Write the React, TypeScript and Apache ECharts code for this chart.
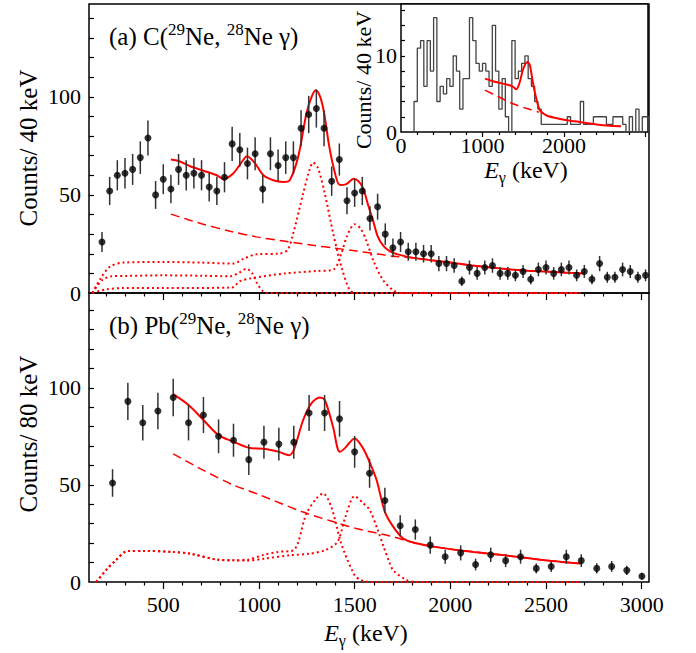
import React, { useEffect, useRef } from "react";
import * as echarts from "echarts";

const FONT = '"Liberation Serif", "DejaVu Serif", serif';
const RED = "#ff0000";

// ---------- Panel (a): C target, 40 keV bins ----------
const aEnergy = [180,220,260,300,340,380,420,460,500,540,580,620,660,700,740,780,820,860,900,940,980,1020,1060,1100,1140,1180,1220,1260,1300,1340,1380,1420,1460,1500,1540,1580,1620,1660,1700,1740,1780,1820,1860,1900,1940,1980,2020,2060,2100,2140,2180,2220,2260,2300,2340,2380,2420,2460,2500,2540,2580,2620,2660,2700,2740,2780,2820,2860,2900,2940,2980,3020];
const aCounts = [26,52,60,61,63,69,79,50,58,53,63,60,61,60,54,52,59,76,73,66,71,53,71,65,69,69,84,91,94,84,57,68,47,51,52,38,44,30,23,26,21,21,20,20,15,15,14,6,13,10,13,14,10,10,9,11,7,12,13,10,12,13,9,11,7,15,8,8,12,11,8,9];
const aErrors = [5.1,7.2,7.7,7.8,7.9,8.3,8.9,7.1,7.6,7.3,7.9,7.7,7.8,7.7,7.3,7.2,7.7,8.7,8.5,8.1,8.4,7.3,8.4,8.1,8.3,8.3,9.2,9.5,9.7,9.2,7.5,8.2,6.9,7.1,7.2,6.2,6.6,5.5,4.8,5.1,4.6,4.6,4.5,4.5,3.9,3.9,3.7,2.4,3.6,3.2,3.6,3.7,3.2,3.2,3.0,3.3,2.6,3.5,3.6,3.2,3.5,3.6,3.0,3.3,2.6,3.9,2.8,2.8,3.5,3.3,2.8,3.0];

const aFit: [number, number][] = [[540,68.1],[580,67.3],[640,64.6],[730,61.7],[780,60],[815,58],[865,60.9],[905,66],[938,69.7],[978,66.3],[1022,60.1],[1074,57.5],[1126,56.6],[1161,57.5],[1205,69.4],[1248,91.5],[1275,100],[1297,103.4],[1320,100],[1340,92],[1365,76],[1390,64],[1423,55],[1457,55.5],[1495,58.2],[1520,57],[1544,53.5],[1570,45],[1596,37],[1620,29],[1650,24],[1683,21.3],[1720,19.8],[1806,17.9],[1981,15.8],[2155,13.6],[2329,11.9],[2500,10.9],[2700,9.9]];
const aBackground: [number, number][] = [[540,40.2],[700,35.3],[850,31.5],[986,28.6],[1109,26.8],[1283,24.3],[1400,22.8],[1500,21.5],[1632,19.7],[1702,18.7],[1806,17.9],[1981,15.8],[2155,13.6],[2329,11.9],[2500,10.9],[2700,9.9]];
const aComp1300: [number, number][] = [[130,0],[170,7],[220,13.3],[290,15.5],[500,15.8],[700,15.5],[865,15],[921,17.5],[986,19.7],[1109,20.1],[1150,22],[1179,30.3],[1231,50.7],[1262,62],[1283,66.5],[1309,63.5],[1344,50.7],[1388,30.3],[1431,13.3],[1475,1.4],[1510,0],[2680,0]];
const aComp900: [number, number][] = [[130,0],[180,6.5],[230,8.5],[308,8.7],[500,9],[700,8.8],[850,8.5],[900,10.5],[935,12.4],[965,10],[990,5],[1020,1],[1050,0],[2680,0]];
const aComp1500: [number, number][] = [[130,0],[200,1.8],[290,2.5],[500,2.5],[860,2.8],[900,6],[960,7.5],[1140,10],[1300,11.2],[1390,12],[1430,20],[1460,29],[1500,35],[1530,33],[1560,27],[1597,16.7],[1649,6.5],[1702,1.4],[1740,0],[2680,0]];

// ---------- Panel (b): Pb target, 80 keV bins ----------
const bEnergy = [235,315,393,472,552,632,710,789,867,947,1026,1104,1182,1262,1343,1421,1500,1578,1658,1738,1817,1895,1973,2054,2132,2211,2289,2367,2449,2527,2606,2684,2765,2843,2922,3001];
const bCounts = [51,93,82,88,95,82,86,75,73,63,72,71,72,87,87,84,67,56,42,29,27,19,13,15,9,14,11,13,7,8,13,11,7,8,6,3];
const bErrors = [7.1,9.6,9.1,9.4,9.7,9.1,9.3,8.7,8.5,7.9,8.5,8.4,8.5,9.3,9.3,9.2,8.2,7.5,6.5,5.4,5.2,4.4,3.6,3.9,3.0,3.7,3.3,3.6,2.6,2.8,3.6,3.3,2.6,2.8,2.4,1.7];

const bFit: [number, number][] = [[552,96.7],[632,91.1],[710,83.4],[789,75.6],[867,72.2],[947,69.1],[1026,68.6],[1104,67],[1157,65.3],[1182,67.9],[1231,83.4],[1274,92],[1318,95],[1344,93.7],[1387,79.9],[1422,67],[1448,68.8],[1500,73.9],[1544,68.8],[1579,61.5],[1615,52.4],[1658,36.1],[1702,28.4],[1754,22.4],[1815,20.1],[1946,17.7],[2121,15.5],[2295,13.6],[2469,11.5],[2679,9.5]];
const bBackground: [number, number][] = [[552,66],[700,58],[865,50],[1000,45],[1231,36],[1423,30],[1509,27.5],[1684,23.7],[1754,21.8],[1815,20.1],[1946,17.7],[2121,15.5],[2295,13.6],[2469,11.5],[2679,9.5]];
const bComp1300: [number, number][] = [[150,0],[200,6],[250,11],[315,16],[400,16],[552,15.5],[640,14.6],[783,11.5],[867,11.2],[940,11.5],[1026,14],[1100,15.5],[1182,16.5],[1248,35.2],[1300,43],[1335,45.6],[1378,38.7],[1430,19.8],[1500,3.5],[1535,0.9],[1580,0],[2680,0]];
const bComp1500: [number, number][] = [[150,0],[200,6],[250,11],[315,16],[400,16],[552,15.5],[640,14.6],[783,11.5],[867,11.2],[940,11],[1026,12],[1165,13.8],[1260,14.5],[1343,16.3],[1410,20.6],[1450,33],[1500,44.2],[1540,41],[1579,37],[1620,27],[1652,18],[1684,9.5],[1702,6],[1772,1],[1830,0],[2680,0]];

// ---------- Inset: gated spectrum, 40 keV bins ----------
const insetBinStart = 160;
const insetBinWidth = 40;
const insetCounts = [4,11,12,6,12,8,15,4,6,5,7,6,10,8,3,7,7,15,12,9,8,9,8,6,14,8,3,7,2,0,12,7,8,9,10,7,6,4,3,1,1,1,1,1,1,1,1,2,1,1,1,4,1,1,1,2,2,2,2,1,1,2,2,2,1,0,2,0,3,0,2,2];
const insetFit: [number, number][] = [[1030,7.0],[1150,6.6],[1310,6.2],[1380,5.9],[1411,5.6],[1450,6.3],[1500,8.3],[1550,9.2],[1580,8.8],[1610,7.0],[1640,5.3],[1700,2.9],[1750,2.4],[1800,2.1],[2000,1.6],[2130,1.4],[2400,1.0],[2700,0.74]];
const insetBackground: [number, number][] = [[1030,5.5],[1200,4.6],[1400,3.6],[1600,2.9],[1690,2.6]];

// axis ticks / labels
const xMajor = [500, 1000, 1500, 2000, 2500, 3000];
const yLabels = [0, 50, 100];
const insetXLabels = [0, 1000, 2000];
const insetYLabels = [0, 10];

function steps(a: number, b: number, s: number): number[] {
  const r: number[] = [];
  for (let v = a; v <= b + 1e-9; v += s) r.push(v);
  return r;
}

const X_MIN = 112;
const X_MAX = 3038;

export default function App() {
  const ref = useRef<HTMLDivElement>(null);
  useEffect(() => {
    const chart = echarts.init(ref.current!, null, { renderer: "svg" });

    const xMinor = steps(200, 3000, 100).filter((v) => v % 500 !== 0);
    const insetXMinor = steps(200, 3000, 200).filter((v) => v % 1000 !== 0);

    const tickStyle = { color: "#000", width: 1.2 };
    const labelStyle = { fontSize: 22, fontFamily: FONT, color: "#000", formatter: (v: number) => String(v) };

    const xAx = (grid: number, min: number, max: number, ticks: number[], len: number, labels: number[] | null, margin: number, z = 2) => ({
      type: "value",
      gridIndex: grid,
      min,
      max,
      position: "bottom",
      z,
      axisLine: { show: false },
      splitLine: { show: false },
      axisTick: { show: true, inside: false, length: len, customValues: ticks, lineStyle: tickStyle },
      axisLabel: labels ? { show: true, customValues: labels, margin, ...labelStyle } : { show: false },
    });
    const yAx = (grid: number, max: number, ticks: number[], len: number, labels: number[], margin: number, z = 2) => ({
      type: "value",
      gridIndex: grid,
      min: 0,
      max,
      position: "left",
      z,
      axisLine: { show: false },
      splitLine: { show: false },
      axisTick: { show: true, inside: true, length: len, customValues: ticks, lineStyle: tickStyle },
      axisLabel: { show: true, customValues: labels, margin, ...labelStyle },
    });

    const errSeries = (xi: number, yi: number, es: number[], cs: number[], er: number[], z = 4) => ({
      type: "custom",
      xAxisIndex: xi,
      yAxisIndex: yi,
      z,
      data: es.map((e, i) => [e, cs[i], er[i]]),
      renderItem: (_p: any, api: any) => {
        const x = api.value(0);
        const y = api.value(1);
        const e = api.value(2);
        const p1 = api.coord([x, y - e]);
        const p2 = api.coord([x, y + e]);
        return {
          type: "line",
          shape: { x1: p1[0], y1: p1[1], x2: p2[0], y2: p2[1] },
          style: { stroke: "#333", lineWidth: 1.5 },
        };
      },
    });
    const pts = (xi: number, yi: number, es: number[], cs: number[]) => ({
      type: "scatter",
      xAxisIndex: xi,
      yAxisIndex: yi,
      z: 5,
      symbol: "circle",
      symbolSize: 7,
      itemStyle: { color: "#000" },
      data: es.map((e, i) => [e, cs[i]]),
    });
    const curve = (xi: number, yi: number, data: [number, number][], kind: "solid" | "dashed" | "dotted", z = 3) => ({
      type: "line",
      xAxisIndex: xi,
      yAxisIndex: yi,
      z,
      data,
      showSymbol: false,
      symbol: "none",
      smooth: 0.3,
      lineStyle: {
        color: RED,
        width: kind === "solid" ? 2 : kind === "dashed" ? 1.5 : 2,
        type: kind === "solid" ? "solid" : kind === "dashed" ? [9, 5] : [2, 3],
      },
    });

    // histogram step data from bins
    const hist: [number, number][] = [[insetBinStart, 0]];
    insetCounts.forEach((c, k) => hist.push([insetBinStart + k * insetBinWidth, c]));
    const histEnd = insetBinStart + insetCounts.length * insetBinWidth;
    hist.push([histEnd, insetCounts[insetCounts.length - 1]]);
    hist.push([histEnd, 0]);

    const rt = (size: number) => ({ fontSize: size, fontFamily: FONT, lineHeight: size + 6 });
    const sup = { fontSize: 17, fontFamily: FONT, lineHeight: 16, verticalAlign: "top" };
    const sub = { fontSize: 16, fontFamily: FONT, lineHeight: 14, verticalAlign: "bottom" };

    const option: any = {
      animation: false,
      backgroundColor: "#fff",
      grid: [
        { left: 89, top: 4, width: 560, height: 289, show: true, borderColor: "#000", borderWidth: 1.5, backgroundColor: "transparent" },
        { left: 89, top: 293, width: 560, height: 289, show: true, borderColor: "#000", borderWidth: 1.5, backgroundColor: "transparent" },
        { left: 401, top: 4, width: 247, height: 128, show: true, borderColor: "#000", borderWidth: 1.5, backgroundColor: "#fff", z: 10 },
      ],
      xAxis: [
        xAx(0, X_MIN, X_MAX, xMinor, 3.5, null, 0),
        xAx(0, X_MIN, X_MAX, xMajor, 7, null, 0),
        xAx(1, X_MIN, X_MAX, xMinor, 3.5, null, 0),
        xAx(1, X_MIN, X_MAX, xMajor, 7, xMajor, 11),
        xAx(2, 0, 3030, insetXMinor, 3, null, 0, 12),
        xAx(2, 0, 3030, [1000, 2000, 3000], 5, insetXLabels, 2, 12),
      ],
      yAxis: [
        yAx(0, 147.3, steps(10, 140, 10), 5, yLabels, 8),
        yAx(1, 148.8, steps(10, 140, 10), 5, yLabels, 8),
        yAx(2, 16.8, steps(2, 16, 2), 4, insetYLabels, 4, 12),
      ],
      series: [
        curve(0, 0, aComp900, "dotted"),
        curve(0, 0, aComp1300, "dotted"),
        curve(0, 0, aComp1500, "dotted"),
        curve(0, 0, aBackground, "dashed"),
        curve(0, 0, aFit, "solid"),
        errSeries(0, 0, aEnergy, aCounts, aErrors),
        pts(0, 0, aEnergy, aCounts),

        curve(2, 1, bComp1300, "dotted"),
        curve(2, 1, bComp1500, "dotted"),
        curve(2, 1, bBackground, "dashed"),
        curve(2, 1, bFit, "solid"),
        errSeries(2, 1, bEnergy, bCounts, bErrors),
        pts(2, 1, bEnergy, bCounts),

        {
          type: "line",
          xAxisIndex: 4,
          yAxisIndex: 2,
          z: 12,
          data: hist,
          step: "end",
          showSymbol: false,
          symbol: "none",
          lineStyle: { color: "#444", width: 1.3 },
        },
        curve(4, 2, insetBackground, "dashed", 13),
        curve(4, 2, insetFit, "solid", 13),
      ],
      graphic: [
        {
          type: "text", x: 109, y: 36, z: 20,
          style: {
            text: "{n|(a) C(}{s|29}{n|Ne, }{s|28}{n|Ne γ)}",
            rich: { n: rt(25), s: sup },
            fill: "#000", align: "left", verticalAlign: "middle",
          },
        },
        {
          type: "text", x: 109, y: 325, z: 20,
          style: {
            text: "{n|(b) Pb(}{s|29}{n|Ne, }{s|28}{n|Ne γ)}",
            rich: { n: rt(25), s: sup },
            fill: "#000", align: "left", verticalAlign: "middle",
          },
        },
        {
          type: "text", x: 28, y: 148, rotation: Math.PI / 2, z: 20,
          style: { text: "Counts/ 40 keV", fontSize: 25, fontFamily: FONT, fill: "#000", align: "center", verticalAlign: "middle" },
        },
        {
          type: "text", x: 28, y: 434, rotation: Math.PI / 2, z: 20,
          style: { text: "Counts/ 80 keV", fontSize: 25, fontFamily: FONT, fill: "#000", align: "center", verticalAlign: "middle" },
        },
        {
          type: "text", x: 363, y: 80, rotation: Math.PI / 2, z: 20,
          style: { text: "Counts/ 40 keV", fontSize: 22, fontFamily: FONT, fill: "#000", align: "center", verticalAlign: "middle" },
        },
        {
          type: "text", x: 366, y: 633, z: 20,
          style: {
            text: "{i|E}{g|γ}{n| (keV)}",
            rich: { i: { ...rt(24), fontStyle: "italic" }, g: sub, n: rt(24) },
            fill: "#000", align: "center", verticalAlign: "middle",
          },
        },
        {
          type: "text", x: 526, y: 170, z: 20,
          style: {
            text: "{i|E}{g|γ}{n| (keV)}",
            rich: { i: { ...rt(24), fontStyle: "italic" }, g: sub, n: rt(24) },
            fill: "#000", align: "center", verticalAlign: "middle",
          },
        },
      ],
    };

    chart.setOption(option);
    return () => chart.dispose();
  }, []);

  return (
    <div
      ref={ref}
      style={{ position: "absolute", left: 0, top: 0, width: 696, height: 653, background: "#fff" }}
    />
  );
}
